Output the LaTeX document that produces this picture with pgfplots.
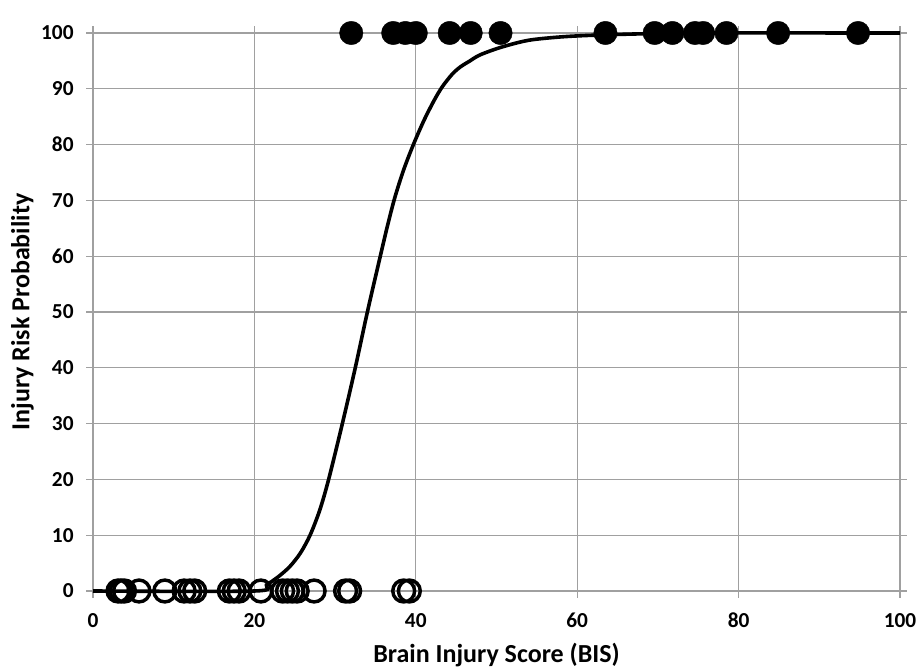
\documentclass[border=0pt]{standalone}
\usepackage{pgfplots}
\pgfplotsset{compat=1.18}
\usepackage{fontspec}
\setmainfont{Carlito}
\definecolor{gridgray}{RGB}{160,160,160}
\begin{document}
\begin{tikzpicture}[x=1pt,y=1pt]
\useasboundingbox (-69.75,-59.25) rectangle (618,443.25);
\begin{axis}[
  at={(0,0)}, anchor=south west,
  scale only axis, width=605.25pt, height=418.5pt,
  xmin=0, xmax=100, ymin=0, ymax=100,
  xtick={0,20,...,100}, ytick={0,10,...,100},
  grid=major, grid style={gridgray, line width=0.9pt},
  axis line style={gridgray, line width=0.9pt},
  tick align=outside, major tick length=5pt,
  tick style={gridgray, line width=0.9pt},
  /pgf/number format/assume math mode=true,
  xticklabel={\pgfmathprintnumber{\tick}},
  yticklabel={\pgfmathprintnumber{\tick}},
  tick label style={font=\bfseries\fontsize{16}{16}\selectfont, text=black},
  xticklabel style={yshift=-8pt},
  yticklabel style={xshift=-6pt},
  xlabel={Brain Injury Score (BIS)},
  ylabel={Injury Risk Probability},
  label style={font=\bfseries\fontsize{19.5}{19.5}\selectfont},
  xlabel style={at={(axis description cs:0.5,-0.1147)}, anchor=center},
  ylabel style={at={(axis description cs:-0.0874,0.5)}, anchor=center},
  clip=false,
]
\addplot[black, line width=2.7pt, smooth, tension=0.5] coordinates {
 (0,0) (20,0) (21.5,1.1) (23,2.6) (24.4,4.4) (25.7,6.8) (26.9,10) (28.1,14.5) (29.2,20) (30.9,30) (32.5,40) (34.0,50) (35.6,60) (36.5,65.5) (37.4,70.5) (38.5,75.5) (39.7,80) (41,84.3) (42.3,88) (43.3,90.4) (44.5,92.6) (45.5,93.9) (46.6,94.9) (48,96.1) (50.7,97.5) (54,98.7) (58,99.3) (62,99.6) (68,99.85) (75,100) (100,100)
};
\addplot[black, only marks, mark=o, mark size=8.2pt, line width=2.6pt] coordinates {
 (3.1,0) (3.5,0) (3.9,0) (5.7,0) (8.9,0) (11.3,0) (12.0,0) (12.6,0) (16.9,0) (17.5,0) (18.1,0) (20.8,0) (23.5,0) (24.1,0) (24.7,0) (25.3,0) (27.4,0) (31.3,0) (31.8,0) (38.5,0) (39.2,0)
};
\addplot[black, only marks, mark=*, mark size=8.8pt, mark options={fill=black, line width=0.3pt}] coordinates {
 (32.0,100) (37.2,100) (38.7,100) (40.0,100) (44.2,100) (46.8,100) (50.5,100) (63.5,100) (69.6,100) (71.8,100) (74.6,100) (75.6,100) (78.5,100) (84.9,100) (94.8,100)
};
\end{axis}
\end{tikzpicture}
\end{document}
